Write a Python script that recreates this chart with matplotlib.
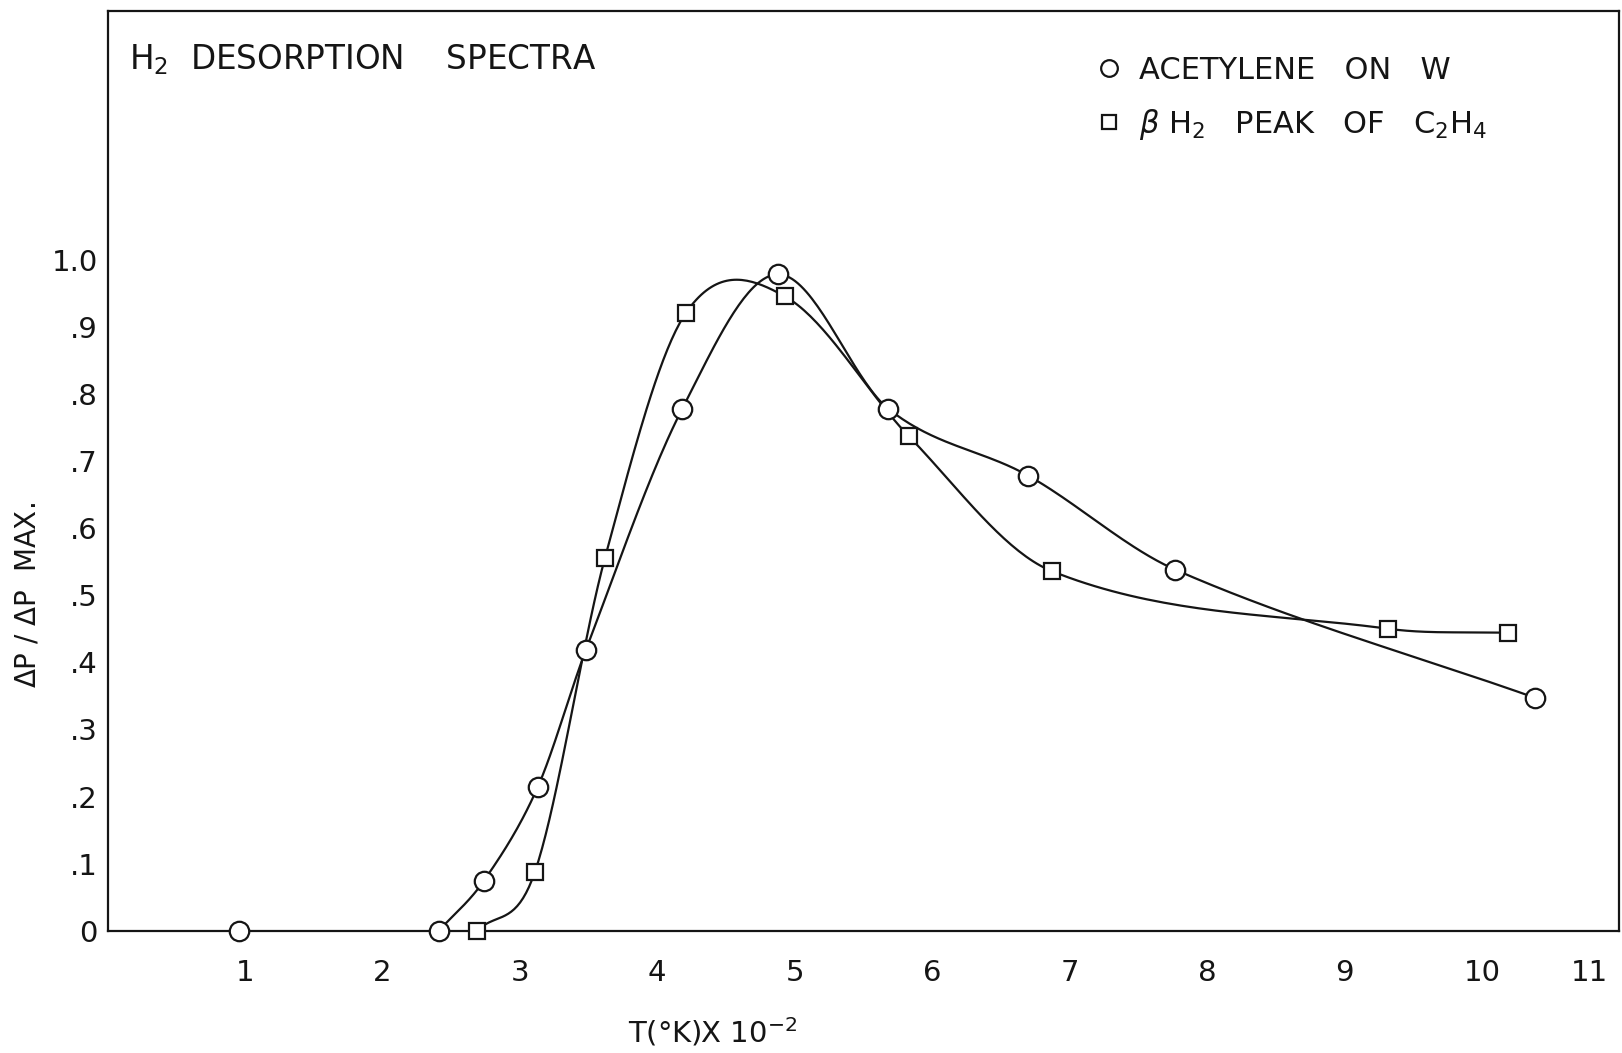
import matplotlib
matplotlib.use("Agg")
import matplotlib.pyplot as plt
import matplotlib.transforms as mtransforms
import numpy as np
from matplotlib.lines import Line2D

# values, T in units of 100 K
acet_t = [0.96, 2.41, 2.74, 3.13, 3.48, 4.18, 4.88, 5.68, 6.70, 7.77, 10.39]
acet_p = [0.0, 0.0, 0.075, 0.214, 0.418, 0.777, 0.978, 0.778, 0.678, 0.538, 0.347]

c2h4_t = [2.69, 3.11, 3.62, 4.21, 4.93, 5.83, 6.87, 9.32, 10.19]
c2h4_p = [0.0, 0.088, 0.556, 0.921, 0.945, 0.737, 0.536, 0.450, 0.444]

x_ticks = [1, 2, 3, 4, 5, 6, 7, 8, 9, 10, 11]
y_ticks = [0, 0.1, 0.2, 0.3, 0.4, 0.5, 0.6, 0.7, 0.8, 0.9, 1.0]
y_labels = ["0", ".1", ".2", ".3", ".4", ".5", ".6", ".7", ".8", ".9", "1.0"]


def smooth_curve(x, y, n=40):
    # french-curve look: cubic Hermite in x through the measured points
    x = np.asarray(x, float)
    y = np.asarray(y, float)
    m = np.empty_like(y)
    m[1:-1] = (y[2:] - y[:-2]) / (x[2:] - x[:-2])
    m[0] = (y[1] - y[0]) / (x[1] - x[0])
    m[-1] = (y[-1] - y[-2]) / (x[-1] - x[-2])
    xs, ys = [], []
    t = np.linspace(0, 1, n)
    for i in range(len(x) - 1):
        h = x[i + 1] - x[i]
        h00 = 2 * t**3 - 3 * t**2 + 1
        h10 = t**3 - 2 * t**2 + t
        h01 = -2 * t**3 + 3 * t**2
        h11 = t**3 - t**2
        xs.append(x[i] + t * h)
        ys.append(h00 * y[i] + h10 * h * m[i] + h01 * y[i + 1] + h11 * h * m[i + 1])
    return np.concatenate(xs), np.concatenate(ys)


plt.rcParams['font.family'] = ['DejaVu Sans']

fig = plt.figure(figsize=(16.22, 10.53), dpi=100)
ax = fig.add_axes([0.0663, 0.116, 0.932, 0.874])

ink = '#151515'

# curves (the acetylene point at T=100 K only sits on the baseline)
cx, cy = smooth_curve(acet_t[1:], acet_p[1:])
ax.plot(cx, cy, color=ink, lw=1.6, zorder=2)
sx, sy = smooth_curve(c2h4_t, c2h4_p)
ax.plot(sx, sy, color=ink, lw=1.6, zorder=2)

ax.plot(acet_t, acet_p, linestyle='none', marker='o', markersize=14,
        markerfacecolor='white', markeredgecolor=ink, markeredgewidth=1.6,
        zorder=3, clip_on=False)
ax.plot(c2h4_t, c2h4_p, linestyle='none', marker='s', markersize=11.5,
        markerfacecolor='white', markeredgecolor=ink, markeredgewidth=1.6,
        zorder=3, clip_on=False)

ax.set_xlim(0, 11)
ax.set_ylim(0, 1.371)
ax.set_xticks(x_ticks)
ax.set_xticklabels([str(v) for v in x_ticks])
ax.set_yticks(y_ticks)
ax.set_yticklabels(y_labels)
ax.tick_params(length=0, labelsize=21, colors=ink)
ax.tick_params(axis='x', pad=20)
ax.tick_params(axis='y', pad=7)

# the "11" label sits a little inside the frame in the original
last = ax.get_xticklabels()[-1]
last.set_transform(last.get_transform() +
                   mtransforms.ScaledTranslation(-0.3, 0, fig.dpi_scale_trans))

for s in ax.spines.values():
    s.set_linewidth(1.6)
    s.set_color(ink)

ax.set_xlabel(r"T($\degree$K)X 10$^{-2}$", fontsize=21, color=ink, va='center')
ax.xaxis.set_label_coords(0.40, -0.11)
ax.set_ylabel(r"$\Delta$P / $\Delta$P  MAX.", fontsize=20, color=ink)
ax.yaxis.set_label_coords(-0.044, 0.365)

ax.text(0.0144, 0.947, r"H$_2$  DESORPTION    SPECTRA", transform=ax.transAxes,
        fontsize=23.5, color=ink, va='center', ha='left')

handles = [
    Line2D([], [], linestyle='none', marker='o', markersize=12,
           markerfacecolor='white', markeredgecolor=ink, markeredgewidth=1.6),
    Line2D([], [], linestyle='none', marker='s', markersize=10,
           markerfacecolor='white', markeredgecolor=ink, markeredgewidth=1.6),
]
labels = ["ACETYLENE   ON   W", r"$\beta$ H$_2$   PEAK   OF   C$_2$H$_4$"]
ax.legend(handles, labels, loc='upper left', bbox_to_anchor=(0.644, 0.967),
          frameon=False, fontsize=22, handlelength=0.8, handletextpad=0.6,
          labelspacing=0.72, borderpad=0, labelcolor=ink)

fig.savefig('out.png', dpi=100, facecolor='white')
